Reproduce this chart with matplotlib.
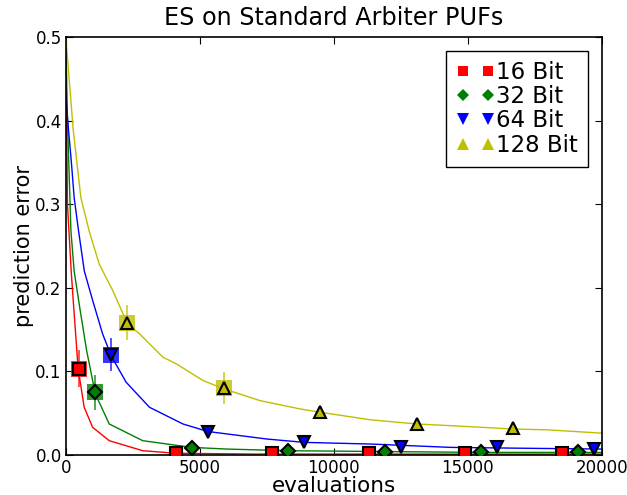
import matplotlib.pyplot as plt
from matplotlib.lines import Line2D

# averaged learning curves (evaluations -> prediction error)
red_cx = [0, 60, 130, 200, 275, 460, 685, 1000, 1620, 2870, 4100, 7000, 20000]
red_cy = [0.5, 0.30, 0.26, 0.22, 0.185, 0.103, 0.057, 0.033, 0.017, 0.005, 0.002, 0.001, 0.001]
green_cx = [0, 60, 190, 310, 525, 775, 1100, 1620, 2870, 4700, 6000, 8300, 11900, 15500, 20000]
green_cy = [0.5, 0.40, 0.268, 0.22, 0.175, 0.125, 0.073, 0.037, 0.017, 0.009, 0.007, 0.005, 0.004, 0.003, 0.003]
blue_cx = [0, 100, 210, 310, 475, 690, 1000, 1370, 1700, 2250, 3120, 4370, 5300, 7500, 8900, 11370, 14360, 17000, 20000]
blue_cy = [0.43, 0.389, 0.349, 0.308, 0.268, 0.22, 0.185, 0.145, 0.118, 0.087, 0.057, 0.037, 0.028, 0.019, 0.015, 0.013, 0.009, 0.008, 0.007]
yellow_cx = [0, 275, 560, 870, 1250, 1745, 2300, 2745, 3620, 4120, 5120, 5900, 7240, 8740, 9500, 11370, 13100, 14360, 16700, 17975, 20000]
yellow_cy = [0.5, 0.389, 0.308, 0.268, 0.228, 0.197, 0.157, 0.145, 0.117, 0.109, 0.089, 0.079, 0.065, 0.055, 0.051, 0.042, 0.037, 0.035, 0.031, 0.030, 0.026]

# marker points
red_x = [500, 4100, 7700, 11300, 14900, 18500]
red_y = [0.103, 0.002, 0.002, 0.002, 0.002, 0.002]
green_x = [1100, 4700, 8300, 11900, 15500, 19100]
green_y = [0.075, 0.008, 0.005, 0.004, 0.003, 0.003]
blue_x = [1700, 5300, 8900, 12500, 16100, 19700]
blue_y = [0.120, 0.028, 0.015, 0.010, 0.009, 0.007]
yellow_x = [2300, 5900, 9500, 13100, 16700]
yellow_y = [0.158, 0.080, 0.051, 0.037, 0.032]

# error bars (only shown where visible)
red_err = [0.022, 0, 0, 0, 0, 0]
green_err = [0.021, 0, 0, 0, 0, 0]
blue_err = [0.020, 0, 0, 0, 0, 0]
yellow_err = [0.021, 0.019, 0, 0, 0]

labels = ['16 Bit', '32 Bit', '64 Bit', '128 Bit']

fig = plt.figure(figsize=(6.27, 4.95), dpi=100)
ax = fig.add_axes([0.105, 0.081, 0.855, 0.844])

series = [
  (red_cx, red_cy, red_x, red_y, red_err, 'r', 's', 8),
  (green_cx, green_cy, green_x, green_y, green_err, 'g', 'D', 7),
  (blue_cx, blue_cy, blue_x, blue_y, blue_err, 'b', 'v', 8.5),
  (yellow_cx, yellow_cy, yellow_x, yellow_y, yellow_err, 'y', '^', 8.5),
]

handles = []
for (cx, cy, mx, my, err, col, mk, ms), lab in zip(series, labels):
  ax.plot(cx, cy, color=col, lw=1.0, zorder=2)
  ex = [x for x, e in zip(mx, err) if e > 0]
  ey = [y for y, e in zip(my, err) if e > 0]
  ee = [e for e in err if e > 0]
  ax.errorbar(ex, ey, yerr=ee, fmt='s', color=col, ms=11, mew=0, alpha=0.8,
              elinewidth=1.2, capsize=4, capthick=1.5, zorder=3)
  ax.plot(mx, my, linestyle='none', marker=mk, ms=ms, mfc=col, mec='k', mew=1.5,
          zorder=4, clip_on=True)
  handles.append(Line2D([], [], linestyle='none', marker=mk, color=col, ms=ms - 0.5, mew=0))

ax.set_xlim(0, 20000)
ax.set_ylim(0, 0.5)
ax.set_xticks([0, 5000, 10000, 15000, 20000])
ax.set_yticks([0.0, 0.1, 0.2, 0.3, 0.4, 0.5])
ax.tick_params(direction='in', top=True, right=True, labelsize=12, length=5, pad=3)
for s in ax.spines.values():
  s.set_linewidth(1.2)

ax.set_title('ES on Standard Arbiter PUFs', fontsize=17.2, pad=9)
ax.set_xlabel('evaluations', fontsize=15.5, labelpad=-1)
ax.set_ylabel('prediction error', fontsize=15, labelpad=1)

leg = ax.legend(handles, labels, loc='upper right', numpoints=2, fontsize=16.5,
                fancybox=False, framealpha=1, edgecolor='k', handlelength=1.7,
                handletextpad=0.05, labelspacing=0.05, borderaxespad=0.6, borderpad=0.45)
leg.get_frame().set_linewidth(1.0)

fig.savefig('out.png', dpi=100)
